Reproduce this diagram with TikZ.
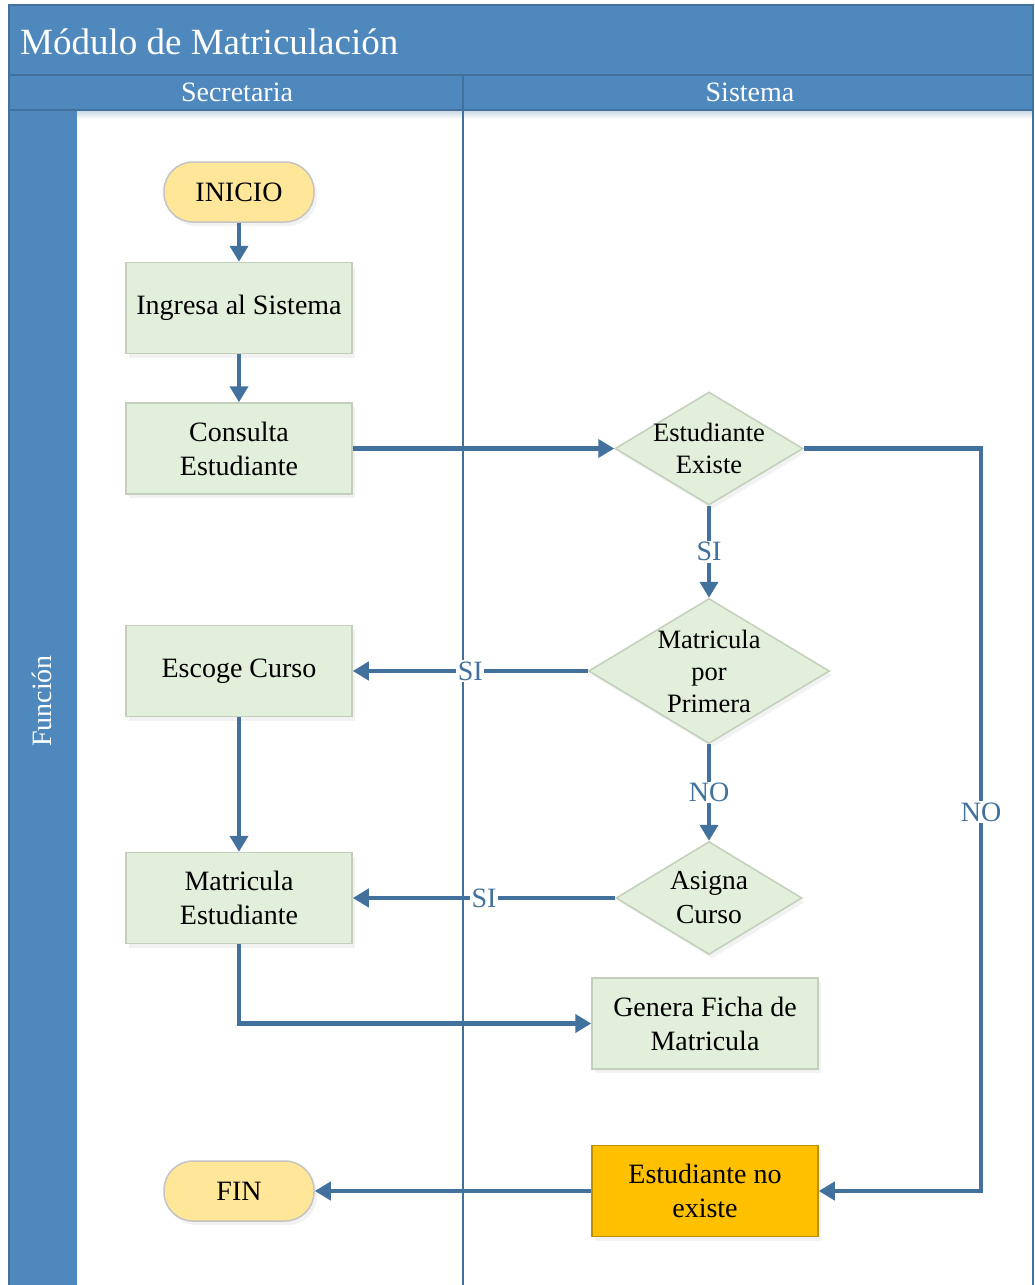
\documentclass[tikz,border=0pt]{standalone}
\usepackage{fontspec}
\setmainfont{Liberation Serif}
\usetikzlibrary{arrows.meta,shapes.geometric,shadows}
\definecolor{laneblue}{HTML}{4F88BD}
\definecolor{laneedge}{HTML}{41719C}
\definecolor{flowblue}{HTML}{41719C}
\definecolor{boxgreen}{HTML}{E2EFDA}
\definecolor{boxgreenedge}{HTML}{C3CFBB}
\definecolor{pillyellow}{HTML}{FFE699}
\definecolor{pilledge}{HTML}{C4C4C4}
\definecolor{warnorange}{HTML}{FFC000}
\definecolor{warnedge}{HTML}{BF9000}
\begin{document}
\begin{tikzpicture}[x=1pt,y=-1pt,
  softshadow/.style={drop shadow={opacity=0.10, shadow xshift=3pt, shadow yshift=-4pt}},
  procbox/.style={draw=boxgreenedge, line width=1.5pt, fill=boxgreen, minimum width=226pt, minimum height=91pt, inner sep=0pt, align=center, font=\fontsize{28}{34}\selectfont, softshadow},
  warnbox/.style={procbox, draw=warnedge, fill=warnorange},
  pill/.style={draw=pilledge, line width=1.5pt, fill=pillyellow, rounded corners=29pt, minimum width=150pt, minimum height=60pt, inner sep=0pt, font=\fontsize{28}{34}\selectfont, softshadow},
  decision/.style={shape=diamond, draw=boxgreenedge, line width=1.5pt, fill=boxgreen, inner sep=0pt, softshadow},
  dtext/.style={align=center, inner sep=0pt, font=\fontsize{26.5}{32}\selectfont},
  flow/.style={draw=flowblue, line width=4.5pt, -{Triangle[length=16pt,width=18pt]}},
  lab/.style={fill=white, text=flowblue, inner sep=1.5pt, font=\fontsize{28}{30}\selectfont},
  laneline/.style={draw=laneedge, line width=1.5pt},
  lanetext/.style={text=white, inner sep=0pt}
]
\useasboundingbox (0,0) rectangle (1035,1285);
% lanes
\fill[laneblue] (9,5) rectangle (1033,1290);
\fill[white] (77,110) rectangle (1033,1290);
\shade[top color=laneedge!30, bottom color=white] (77,110) rectangle (1033,119);
\draw[laneline] (9,5) rectangle (1033,1290);
\draw[laneline] (9,75) -- (1033,75);
\draw[laneline] (9,110) -- (1033,110);
\draw[laneline] (463,75) -- (463,1290);
\node[lanetext, anchor=base west, font=\fontsize{37}{40}\selectfont] (title) at (20,54) {Módulo de Matriculación};
\node[lanetext, anchor=base, font=\fontsize{28}{30}\selectfont] (secr) at (237,101) {Secretaria};
\node[lanetext, anchor=base, font=\fontsize{28}{30}\selectfont] (sist) at (750,101) {Sistema};
\node[lanetext, rotate=90, font=\fontsize{28}{30}\selectfont] (func) at (42,701) {Función};
% nodes
\node[pill] (inicio) at (239,192) {INICIO};
\node[procbox] (ingresa) at (239,308) {Ingresa al Sistema};
\node[procbox] (consulta) at (239,448.5) {Consulta\\Estudiante};
\node[procbox] (escoge) at (239,671) {Escoge Curso};
\node[procbox] (matest) at (239,898) {Matricula\\Estudiante};
\node[pill] (fin) at (239,1191) {FIN};
\node[decision, minimum width=188pt, minimum height=113pt, label={[dtext]center:Estudiante\\Existe}] (ee) at (709,448.5) {};
\node[decision, minimum width=241pt, minimum height=145pt, label={[dtext]center:Matricula\\por\\Primera}] (mpp) at (709,671) {};
\node[decision, minimum width=186pt, minimum height=113pt, label={[dtext, font=\fontsize{27.5}{34}\selectfont]center:Asigna\\Curso}] (asigna) at (709,898) {};
\node[procbox] (genera) at (705,1023.5) {Genera Ficha de\\Matricula};
\node[warnbox] (ene) at (705,1191) {Estudiante no\\existe};
\coordinate (nocorner) at (981,448.5);
% connectors
\draw[flow] (inicio) -- (ingresa);
\draw[flow] (ingresa) -- (consulta);
\draw[flow] (consulta.east) -- (ee.west);
\draw[flow] (ee) -- node[lab]{SI} (mpp);
\draw[flow] (ee.east) -- (nocorner) -- node[lab, pos=0.49]{NO} (nocorner |- ene.east) -- (ene.east);
\draw[flow] (mpp.west) -- node[lab]{SI} (escoge.east);
\draw[flow] (mpp) -- node[lab]{NO} (asigna);
\draw[flow] (asigna.west) -- node[lab]{SI} (matest.east);
\draw[flow] (escoge) -- (matest);
\draw[flow] (matest.south) |- (genera.west);
\draw[flow] (ene.west) -- (fin.east);
\end{tikzpicture}
\end{document}
